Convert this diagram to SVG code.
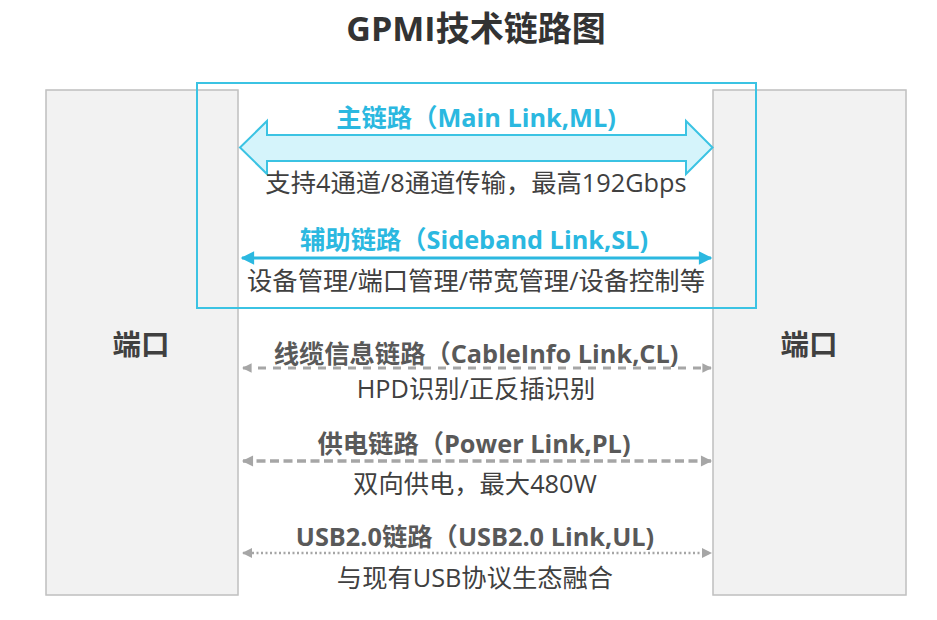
<svg xmlns="http://www.w3.org/2000/svg" width="937" height="620" viewBox="0 0 937 620">
<defs>
<style>
.port{fill:#f2f2f2;stroke:#bfbfbf;stroke-width:1.5}
.portlbl{font-family:"Noto Sans CJK SC",sans-serif;font-weight:bold;font-size:28.5px;fill:#404040;text-anchor:middle}
.title{font-family:"Open Sans","Noto Sans CJK SC",sans-serif;font-weight:bold;font-size:34px;fill:#333333;text-anchor:middle}
.lblc{font-family:"Open Sans","Noto Sans CJK SC",sans-serif;font-weight:bold;font-size:25.3px;fill:#2bb8e0;text-anchor:middle}
.lblg{font-family:"Open Sans","Noto Sans CJK SC",sans-serif;font-weight:bold;font-size:25.3px;fill:#595959;text-anchor:middle}
.desc{font-family:"Open Sans","Noto Sans CJK SC",sans-serif;font-size:25.3px;fill:#404040;text-anchor:middle}
</style>
<marker id="ac" viewBox="0 0 10 10" refX="9" refY="5" markerWidth="5" markerHeight="4.5" orient="auto-start-reverse" markerUnits="strokeWidth">
<path d="M0,0 L10,5 L0,10 Z" fill="#2bb8e0"/>
</marker>
<marker id="ag" viewBox="0 0 10 10" refX="9" refY="5" markerWidth="4" markerHeight="3.2" orient="auto-start-reverse" markerUnits="strokeWidth">
<path d="M0,0 L10,5 L0,10 Z" fill="#a6a6a6"/>
</marker>
<marker id="ag2" viewBox="0 0 10 10" refX="9" refY="5" markerWidth="5" markerHeight="4" orient="auto-start-reverse" markerUnits="strokeWidth">
<path d="M0,0 L10,5 L0,10 Z" fill="#a6a6a6"/>
</marker>
</defs>
<rect width="937" height="620" fill="#ffffff"/>
<text class="title" x="476" y="41">GPMI技术链路图</text>
<g id="port-left">
<rect class="port" x="46" y="90" width="192" height="505"/>
<text class="portlbl" x="141" y="355">端口</text>
</g>
<g id="port-right">
<rect class="port" x="713" y="90" width="193" height="505"/>
<text class="portlbl" x="809" y="355">端口</text>
</g>
<g id="highlight">
<rect x="197" y="83" width="559" height="225" fill="none" stroke="#3bc3e3" stroke-width="2"/>
</g>
<g id="connectors">
<polygon points="240,147.5 267,121 267,135 686,135 686,121 712.5,147.5 686,174 686,161 267,161 267,174" fill="#d5f4fb" stroke="#3bc3e3" stroke-width="2" stroke-linejoin="miter"/>
<line x1="242" y1="258" x2="711" y2="258" stroke="#2bb8e0" stroke-width="3" marker-start="url(#ac)" marker-end="url(#ac)"/>
<line x1="243" y1="368" x2="711" y2="368" stroke="#a6a6a6" stroke-width="3" stroke-dasharray="8 7" marker-start="url(#ag)" marker-end="url(#ag)"/>
<line x1="243" y1="461" x2="711" y2="461" stroke="#a6a6a6" stroke-width="3.5" stroke-dasharray="9 4.5" marker-start="url(#ag)" marker-end="url(#ag)"/>
<line x1="243" y1="553" x2="711" y2="553" stroke="#a6a6a6" stroke-width="2.5" stroke-dasharray="2 2.5" marker-start="url(#ag2)" marker-end="url(#ag2)"/>
</g>
<g id="main-link">
<text class="lblc" x="476" y="127">主链路（Main Link,ML)</text>
<text class="desc" x="476" y="192">支持4通道/8通道传输，最高192Gbps</text>
</g>
<g id="sideband-link">
<text class="lblc" x="474" y="249">辅助链路（Sideband Link,SL)</text>
<text class="desc" x="476" y="290">设备管理/端口管理/带宽管理/设备控制等</text>
</g>
<g id="cableinfo-link">
<text class="lblg" x="476" y="363">线缆信息链路（CableInfo Link,CL)</text>
<text class="desc" x="476" y="398">HPD识别/正反插识别</text>
</g>
<g id="power-link">
<text class="lblg" x="474" y="453">供电链路（Power Link,PL)</text>
<text class="desc" x="475" y="493">双向供电，最大480W</text>
</g>
<g id="usb-link">
<text class="lblg" x="475" y="546">USB2.0链路（USB2.0 Link,UL)</text>
<text class="desc" x="475" y="587">与现有USB协议生态融合</text>
</g>
</svg>
